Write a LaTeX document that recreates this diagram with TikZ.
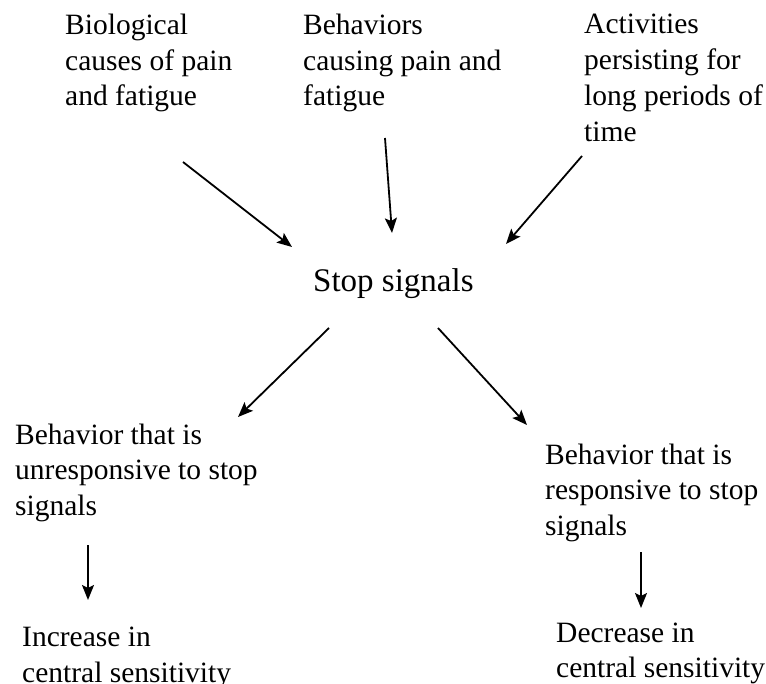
\documentclass[tikz,border=0pt]{standalone}
\usepackage{fontspec}
\setmainfont{Liberation Serif}
\usetikzlibrary{arrows.meta}

\begin{document}
\begin{tikzpicture}[x=1pt, y=-1pt,
    txt/.style={anchor=base west, align=left, inner sep=0pt,
      font=\fontsize{29.5}{35.5}\selectfont},
    arr/.style={-{Stealth[length=15pt, width=12pt, inset=3pt]}, line width=1.8pt}]
    \useasboundingbox (0,0) rectangle (766,684);
    % causes (placed by the baseline of their last line)
    \node[txt] (bio) at (65,106) {Biological\\causes of pain\\and fatigue};
    \node[txt] (beh) at (303,106) {Behaviors\\causing pain and\\fatigue};
    \node[txt, font=\fontsize{29.5}{36.3}\selectfont] (act) at (584,142) {Activities\\persisting for\\long periods of\\time};
    \node[txt, font=\fontsize{33}{38}\selectfont] (stop) at (313,292) {Stop signals};
    % responses
    \node[txt] (unresp) at (15,515) {Behavior that is\\unresponsive to stop\\signals};
    \node[txt] (resp) at (545,535) {Behavior that is\\responsive to stop\\signals};
    \node[txt] (inc) at (22,682) {Increase in\\central sensitivity};
    \node[txt, font=\fontsize{29.5}{35}\selectfont] (dec) at (556,677) {Decrease in\\central sensitivity};
    % arrow ends
    \coordinate (bio-out) at (183,162);
    \coordinate (beh-out) at (385,138);
    \coordinate (act-out) at (582,156);
    \coordinate (stop-in1) at (292,247);
    \coordinate (stop-in2) at (392,233);
    \coordinate (stop-in3) at (506,244);
    \coordinate (stop-out1) at (329,328);
    \coordinate (stop-out2) at (438,328);
    \coordinate (unresp-in) at (238,417);
    \coordinate (resp-in) at (527,425);
    \coordinate (unresp-out) at (88,545);
    \coordinate (inc-in) at (88,600);
    \coordinate (resp-out) at (641,552);
    \coordinate (dec-in) at (641,608);
    \draw[arr] (bio-out) -- (stop-in1);
    \draw[arr] (beh-out) -- (stop-in2);
    \draw[arr] (act-out) -- (stop-in3);
    \draw[arr] (stop-out1) -- (unresp-in);
    \draw[arr] (stop-out2) -- (resp-in);
    \draw[arr] (unresp-out) -- (inc-in);
    \draw[arr] (resp-out) -- (dec-in);
\end{tikzpicture}
\end{document}
